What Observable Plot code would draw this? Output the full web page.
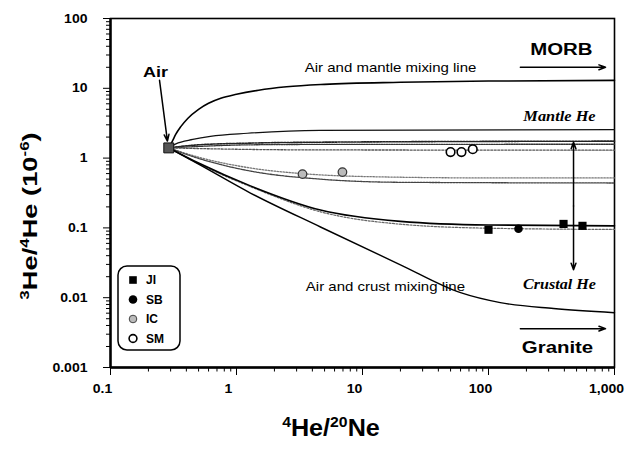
<!DOCTYPE html>
<html><head><meta charset="utf-8">
<script src="https://cdn.jsdelivr.net/npm/d3@7"></script>
<script src="https://cdn.jsdelivr.net/npm/@observablehq/plot@0.6"></script>
<style>
body{margin:0;background:#fff;}
#wrap{position:relative;width:628px;height:450px;}
#legend{position:absolute;left:117px;top:265px;}
svg g[aria-label="x-axis tick label"], svg g[aria-label="y-axis tick label"]{font-weight:bold;}
</style></head>
<body><div id="wrap"></div>
<script>
// ---- data (x = 4He/20Ne, y = 3He/4He x1e-6) ----
const airX = [0.29], airY = [1.4];
const jiX = [100, 394, 557], jiY = [0.094, 0.114, 0.107];
const sbX = [173], sbY = [0.097];
const icX = [3.34, 6.93], icY = [0.59, 0.63];
const smX = [50, 61, 75], smY = [1.22, 1.22, 1.34];

// mixing curves
const morbLineX = [0.29, 0.31, 0.33, 0.36, 0.41, 0.5, 0.6, 0.75, 1.0, 1.5, 2.5, 5, 20, 100, 1000];
const morbLineY = [1.4, 1.75, 2.2, 2.8, 3.7, 5.0, 6.1, 7.2, 8.2, 9.4, 10.5, 11.4, 12.2, 12.7, 13.0];
const mantle1X = [0.29, 0.33, 0.45, 0.62, 1.22, 4.6, 1000];
const mantle1Y = [1.4, 1.6, 1.85, 2.05, 2.27, 2.5, 2.55];
const mantle2X = [0.29, 0.5, 1.3, 4.6, 1000];
const mantle2Y = [1.4, 1.55, 1.64, 1.69, 1.75];
const mantle3X = [0.29, 1.3, 4.6, 1000];
const mantle3Y = [1.4, 1.55, 1.57, 1.58];
const mantle4X = [0.29, 1.3, 4.6, 1000];
const mantle4Y = [1.4, 1.33, 1.31, 1.3];
const mid1X = [0.29, 0.5, 1.3, 3.3, 10, 100, 1000];
const mid1Y = [1.4, 1.03, 0.72, 0.6, 0.545, 0.52, 0.52];
const mid2X = [0.29, 0.5, 1.3, 4.6, 20, 1000];
const mid2Y = [1.4, 0.99, 0.65, 0.5, 0.45, 0.44];
const low1X = [0.29, 0.5, 1.29, 4.64, 20, 100, 1000];
const low1Y = [1.4, 0.85, 0.40, 0.18, 0.124, 0.11, 0.107];
const low2X = [0.29, 0.5, 1.29, 4.64, 20, 100, 1000];
const low2Y = [1.4, 0.83, 0.39, 0.17, 0.113, 0.099, 0.095];
const crustLineX = [0.29, 0.5, 1.29, 4.64, 20, 60, 124, 328, 1000];
const crustLineY = [1.4, 0.82, 0.316, 0.103, 0.0296, 0.0118, 0.0085, 0.0070, 0.0061];

// ticks
const xMajor = [0.1, 1, 10, 100, 1000];
const yMajor = [0.001, 0.01, 0.1, 1, 10, 100];
const xMinor = [0.1, 1, 10, 100].flatMap(d => [2,3,4,5,6,7,8,9].map(k => +(d * k).toPrecision(3)));
const yMinor = [0.001, 0.01, 0.1, 1, 10].flatMap(d => [2,3,4,5,6,7,8,9].map(k => +(d * k).toPrecision(3)));

// annotations
const noteText = ["Air", "Air and mantle mixing line", "MORB", "Mantle He", "Crustal He", "Air and crust mixing line", "Granite"];
const noteX = [0.228, 16.7, 379, 366, 366, 15.2, 353];
const noteY = [16.9, 19.3, 36.1, 3.98, 0.0153, 0.01436, 0.00193];
const arrowX1 = [0.245, 179, 179, 473, 473];
const arrowY1 = [13.0, 20, 0.0036, 0.206, 0.206];
const arrowX2 = [0.283, 849, 849, 473, 473];
const arrowY2 = [1.75, 20, 0.0036, 1.69, 0.0251];

const legendNames = ["JI", "SB", "IC", "SM"];

// ---- build ----
const pts = (X, Y) => X.map((x, i) => ({x, y: Y[i]}));
const fmt = d3.format(",");
const sans = "'Liberation Sans', Arial, sans-serif";
const serif = "'Liberation Serif', 'Times New Roman', serif";
const notes = noteText.map((t, i) => ({t, x: noteX[i], y: noteY[i]}));
const arrows = arrowX1.map((x1, i) => ({x1, y1: arrowY1[i], x2: arrowX2[i], y2: arrowY2[i]}));

function curve(X, Y, stroke, width, dash) {
  return Plot.line(pts(X, Y), {x: "x", y: "y", curve: "monotone-x", stroke, strokeWidth: width, strokeDasharray: dash});
}

const chart = Plot.plot({
  width: 628, height: 450,
  marginLeft: 110, marginRight: 14, marginTop: 18, marginBottom: 83,
  style: {fontFamily: sans, fontSize: "13px", background: "white", color: "black"},
  x: {type: "log", domain: [0.1, 1000]},
  y: {type: "log", domain: [0.001, 100]},
  marks: [
    Plot.axisX(xMinor, {tickSize: 4.5, tickFormat: () => "", label: null}),
    Plot.axisY(yMinor, {tickSize: 4, tickFormat: () => "", label: null}),
    Plot.axisX(xMajor, {tickSize: 8, tickPadding: 8, tickFormat: fmt, fontSize: 13, label: null}),
    Plot.axisY(yMajor, {tickSize: 7, tickPadding: 16, tickFormat: fmt, fontSize: 13, label: null}),
    Plot.frame({stroke: "black", strokeWidth: 1.6}),
    Plot.ruleX([0.1], {strokeWidth: 2.4}),
    Plot.ruleY([0.001], {strokeWidth: 2.4}),
    curve(morbLineX, morbLineY, "black", 1.6),
    curve(mantle1X, mantle1Y, "#111", 1.2),
    curve(mantle2X, mantle2Y, "#222", 1.6, "2,1.2"),
    curve(mantle3X, mantle3Y, "#333", 1.3, "1.5,1"),
    curve(mantle4X, mantle4Y, "#555", 1.3, "2,1.5"),
    curve(mid1X, mid1Y, "#777", 1.3, "1.5,1.5"),
    curve(mid2X, mid2Y, "#444", 1.3, "2,1"),
    curve(low2X, low2Y, "#666", 1.2, "2,1.5"),
    curve(low1X, low1Y, "black", 1.6),
    curve(crustLineX, crustLineY, "black", 1.4),
    Plot.arrow(arrows, {x1: "x1", y1: "y1", x2: "x2", y2: "y2", stroke: "black", strokeWidth: 1.5, headLength: 7, headAngle: 40}),
    Plot.dot(pts(airX, airY), {x: "x", y: "y", symbol: "square", r: 5.6, fill: "#555", stroke: "#111", strokeWidth: 1}),
    Plot.dot(pts(icX, icY), {x: "x", y: "y", r: 4.3, fill: "#bbb", stroke: "#333", strokeWidth: 1.2}),
    Plot.dot(pts(smX, smY), {x: "x", y: "y", r: 4.3, fill: "white", stroke: "black", strokeWidth: 1.6}),
    Plot.dot(pts(jiX, jiY), {x: "x", y: "y", symbol: "square", r: 4.6, fill: "black"}),
    Plot.dot(pts(sbX, sbY), {x: "x", y: "y", r: 4.3, fill: "black"}),
    Plot.text(notes.filter(d => ["Air", "MORB", "Granite"].includes(d.t)), {x: "x", y: "y", text: "t", fontWeight: "bold", fontSize: d => d.t === "Air" ? 15 : 17, fill: "black"}),
    Plot.text(notes.filter(d => d.t.includes("mixing")), {x: "x", y: "y", text: "t", fontSize: 12.5, fill: "black"}),
    Plot.text(notes.filter(d => d.t.endsWith(" He")), {x: "x", y: "y", text: "t", fontSize: 14, fontWeight: "bold", fontStyle: "italic", fontFamily: serif, fill: "black"})
  ]
});

// stretch text horizontally to match the reference's wide lettering
const stretch = {"Air": 1.2, "MORB": 1.2, "Granite": 1.2, "Air and mantle mixing line": 1.2, "Air and crust mixing line": 1.2, "Mantle He": 1.17, "Crustal He": 1.15};
function addT(el, extra) { el.setAttribute("transform", (el.getAttribute("transform") || "") + " " + extra); }
const S = d3.select(chart);
S.selectAll("text").each(function () {
  const k = stretch[this.textContent];
  if (k && this.getAttribute("transform")) addT(this, `scale(${k},1)`);
});
S.selectAll('g[aria-label="x-axis tick label"] text').each(function () { if (this.textContent) addT(this, "translate(-8,0) scale(1.08,1)"); });
S.selectAll('g[aria-label="y-axis tick label"] text').each(function () { if (this.textContent) addT(this, "scale(1.08,1)"); });

// axis titles with superscripts
const xt = S.append("text").attr("transform", "translate(331,436) scale(1.05,1)").attr("text-anchor", "middle")
  .style("font-family", sans).style("font-weight", "bold").attr("fill", "black");
xt.append("tspan").attr("font-size", 15).attr("dy", -9).text("4");
xt.append("tspan").attr("font-size", 24).attr("dy", 9).text("He/");
xt.append("tspan").attr("font-size", 15).attr("dy", -9).text("20");
xt.append("tspan").attr("font-size", 24).attr("dy", 9).text("Ne");

const yt = S.append("text").attr("transform", "translate(37,216) rotate(-90) scale(1.3,1)").attr("text-anchor", "middle")
  .style("font-family", sans).style("font-weight", "bold").attr("fill", "black");
yt.append("tspan").attr("font-size", 13).attr("dy", -8).text("3");
yt.append("tspan").attr("font-size", 21).attr("dy", 8).text("He/");
yt.append("tspan").attr("font-size", 13).attr("dy", -8).text("4");
yt.append("tspan").attr("font-size", 21).attr("dy", 8).text("He (10");
yt.append("tspan").attr("font-size", 13).attr("dy", -8).text("-6");
yt.append("tspan").attr("font-size", 21).attr("dy", 8).text(")");

const wrap = document.getElementById("wrap");
wrap.appendChild(chart);

// legend
const lg = d3.select(wrap).append("svg").attr("id", "legend").attr("width", 66).attr("height", 88);
lg.append("rect").attr("x", 1).attr("y", 1).attr("width", 62).attr("height", 84).attr("rx", 9)
  .attr("fill", "white").attr("stroke", "black").attr("stroke-width", 1.5);
const symStyle = {
  JI: g => g.append("rect").attr("x", -3.8).attr("y", -3.8).attr("width", 7.6).attr("height", 7.6).attr("fill", "black"),
  SB: g => g.append("circle").attr("r", 4.3).attr("fill", "black"),
  IC: g => g.append("circle").attr("r", 3.8).attr("fill", "#bbb").attr("stroke", "#444").attr("stroke-width", 1),
  SM: g => g.append("circle").attr("r", 3.9).attr("fill", "white").attr("stroke", "black").attr("stroke-width", 1.6)
};
legendNames.forEach((n, i) => {
  const g = lg.append("g").attr("transform", `translate(16,${15 + i * 19.5})`);
  symStyle[n](g);
  lg.append("text").attr("x", 29).attr("y", 15 + i * 19.5).attr("dy", "0.36em")
    .style("font", `bold 12px ${sans}`).attr("fill", "black").text(n);
});
</script></body></html>
